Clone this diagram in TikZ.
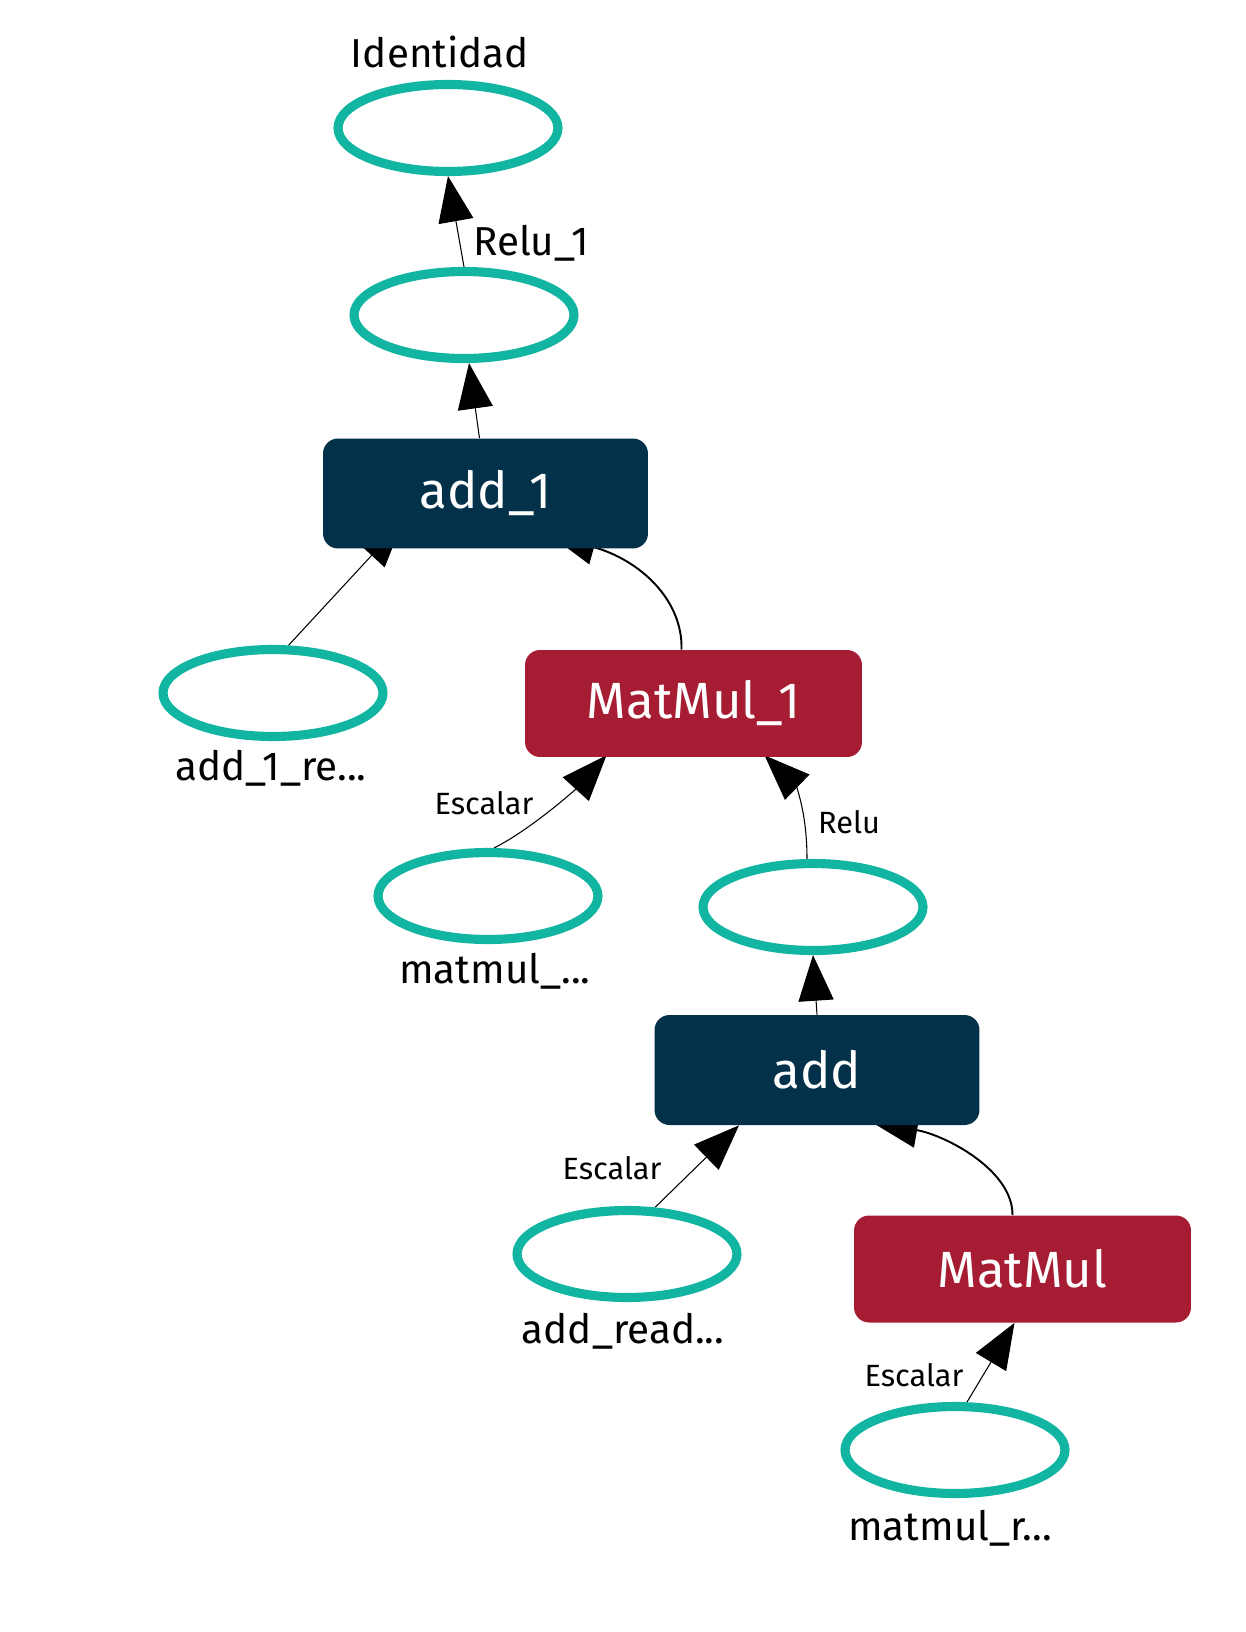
\documentclass[tikz,border=0pt]{standalone}
\usepackage{fontspec}
\setmainfont{Fira Sans}
\usetikzlibrary{shapes.geometric, arrows.meta, calc, backgrounds}
\definecolor{tealring}{HTML}{12B5A2}
\definecolor{navyop}{HTML}{04314A}
\definecolor{redop}{HTML}{A61C32}

\begin{document}
\begin{tikzpicture}[
  x=0.02cm, y=-0.02cm,
  tensor/.style={ellipse, draw=tealring, line width=5.2pt,
                minimum width=4.4cm, minimum height=1.74cm, inner sep=0pt},
  opbox/.style={rectangle, rounded corners=0.3cm, text=white,
                font=\fontsize{29}{33}\selectfont, inner sep=0pt},
  addop/.style={opbox, fill=navyop, minimum width=6.5cm, minimum height=2.2cm},
  mulop/.style={opbox, fill=redop, minimum width=6.74cm, minimum height=2.14cm},
  tname/.style={font=\fontsize{23}{27}\selectfont},
  elbl/.style={font=\fontsize{17.5}{20}\selectfont},
  arr/.style={-{Triangle[length=26pt, width=20pt]}, line width=0.6pt},
  carr/.style={arr, line width=1.1pt}
]
\useasboundingbox (0,0) rectangle (1246,1632);

% Top chain
\node[tensor] (ident) at (448,128) {};
\node[tname] (identlbl) at (440,52) {Identidad};
\node[tensor] (relu1) at (464,315) {};
\node[tname] (relu1lbl) at (531,243) {Relu\_1};
\node[addop] (add1) at (485.5,493.5) {add\_1};

% Inputs of add_1
\node[tensor] (add1r) at (273,693) {};
\node[tname] (add1rlbl) at (271,768) {add\_1\_re...};
\node[mulop] (mm1) at (693.5,703.5) {MatMul\_1};

% Inputs of MatMul_1
\node[tensor] (mmr1) at (488,896) {};
\node[tname] (mmr1lbl) at (495,971) {matmul\_...};
\node[elbl] (esc1) at (484,803) {Escalar};
\node[tensor] (relu) at (813,907) {};
\node[elbl] (relulbl) at (849,822) {Relu};
\node[addop] (addn) at (817,1070) {add};

% Inputs of add
\node[tensor] (addr) at (627,1254) {};
\node[tname] (addrlbl) at (623,1331) {add\_read...};
\node[elbl] (esc2) at (612,1168) {Escalar};
\node[mulop] (mm) at (1022.5,1269) {MatMul};

% Input of MatMul
\node[tensor] (mmr) at (955,1450) {};
\node[tname] (mmrlbl) at (950,1528) {matmul\_r...};
\node[elbl] (esc3) at (914,1375) {Escalar};

% Arrows
\begin{scope}[on background layer]
\draw[arr] (relu1.north) -- (ident.south);
\draw[arr] ($(add1.north)+(-6,0)$) -- ($(relu1.south)+(5,0)$);
\draw[arr] (add1r.72) -- ($(add1.south west)+(80,-27)$);
\draw[carr] ($(mm1.north)+(-12,0)$) .. controls (683,600) and (640,560) .. (550,535);
\draw[arr] ($(mmr1.north)+(6,0)$) .. controls (530,830) and (575,790) .. ($(mm1.south)+(-87,-2)$);
\draw[arr] ($(relu.north)+(-6,0)$) .. controls (807,810) and (795,785) .. ($(mm1.south)+(71,-2)$);
\draw[arr] (addn.north) -- (relu.south);
\draw[arr] (addr.59) -- ($(addn.south)+(-78,0)$);
\draw[carr] ($(mm.north)+(-10,0)$) .. controls (1013,1170) and (945,1135) .. ($(addn.south)+(55,-3)$);
\draw[arr] (mmr.76) -- ($(mm.south)+(-8,0)$);
\end{scope}
\end{tikzpicture}
\end{document}
